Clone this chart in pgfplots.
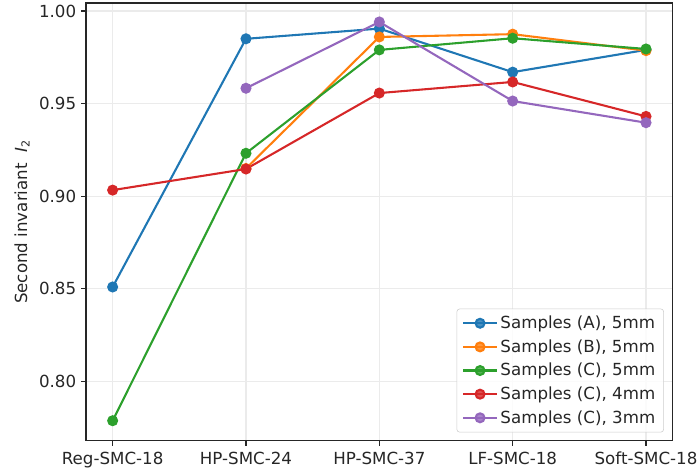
\documentclass[border=0pt]{standalone}
\usepackage{pgfplots}
\pgfplotsset{compat=1.18}
\usepackage{fontspec}
\setmainfont{DejaVu Sans}
\definecolor{c1}{HTML}{1F77B4}
\definecolor{c2}{HTML}{FF7F0E}
\definecolor{c3}{HTML}{2CA02C}
\definecolor{c4}{HTML}{D62728}
\definecolor{c5}{HTML}{9467BD}
\begin{document}
\begin{tikzpicture}
\useasboundingbox (-61.9pt,-24.0pt) rectangle (439.9pt,317.3pt);
\begin{axis}[
  at={(0,0)}, anchor=south west,
  scale only axis, width=422.4pt, height=315.1pt,
  xmin=-0.2, xmax=4.2, ymin=0.768, ymax=1.0043,
  xtick={0,1,2,3,4},
  xticklabels={Reg-SMC-18,HP-SMC-24,HP-SMC-37,LF-SMC-18,Soft-SMC-18},
  ytick={0.80,0.85,0.90,0.95,1.00},
  yticklabel style={/pgf/number format/.cd, fixed, fixed zerofill, precision=2},
  /pgf/number format/assume math mode=true,
  tick pos=left,
  tick align=outside, major tick length=3.5pt,
  tick style={black!85, line width=0.8pt},
  axis line style={black!85, line width=0.8pt},
  grid=major, major grid style={black!8, line width=0.8pt},
  ticklabel style={font=\fontsize{12}{14}\selectfont, text=black!85},
  xticklabel style={yshift=-1pt},
  ylabel={Second invariant\ \ \textit{I}\textsubscript{2}},
  ylabel style={font=\fontsize{12}{14}\selectfont, text=black!85},
  every axis plot/.append style={line width=1.5pt, mark=*, mark size=3.2pt},
  legend style={at={(0.985,0.019)}, anchor=south east,
    draw=black!20, fill=white, fill opacity=0.8, text opacity=1,
    rounded corners=2pt, font=\fontsize{12}{14}\selectfont, text=black!85,
    row sep=2.4pt, inner xsep=4pt, inner ysep=3pt},
  legend cell align=left,
  legend image code/.code={\draw[mark repeat=2,mark phase=2] plot coordinates {(0cm,0cm)(0.42cm,0cm)(0.84cm,0cm)};},
]
\addplot[c1, mark options={fill=c1, draw=c1}] coordinates {(0,0.851)(1,0.985)(2,0.9905)(3,0.967)(4,0.979)};
\addlegendentry{Samples (A), 5mm}
\addplot[c2, mark options={fill=c2, draw=c2}] coordinates {(1,0.915)(2,0.986)(3,0.9875)(4,0.9786)};
\addlegendentry{Samples (B), 5mm}
\addplot[c3, mark options={fill=c3, draw=c3}] coordinates {(0,0.7788)(1,0.9232)(2,0.979)(3,0.9853)(4,0.9795)};
\addlegendentry{Samples (C), 5mm}
\addplot[c4, mark options={fill=c4, draw=c4}] coordinates {(0,0.9033)(1,0.9147)(2,0.9557)(3,0.9617)(4,0.9431)};
\addlegendentry{Samples (C), 4mm}
\addplot[c5, mark options={fill=c5, draw=c5}] coordinates {(1,0.9583)(2,0.9941)(3,0.9514)(4,0.9397)};
\addlegendentry{Samples (C), 3mm}
\end{axis}
\end{tikzpicture}
\end{document}
